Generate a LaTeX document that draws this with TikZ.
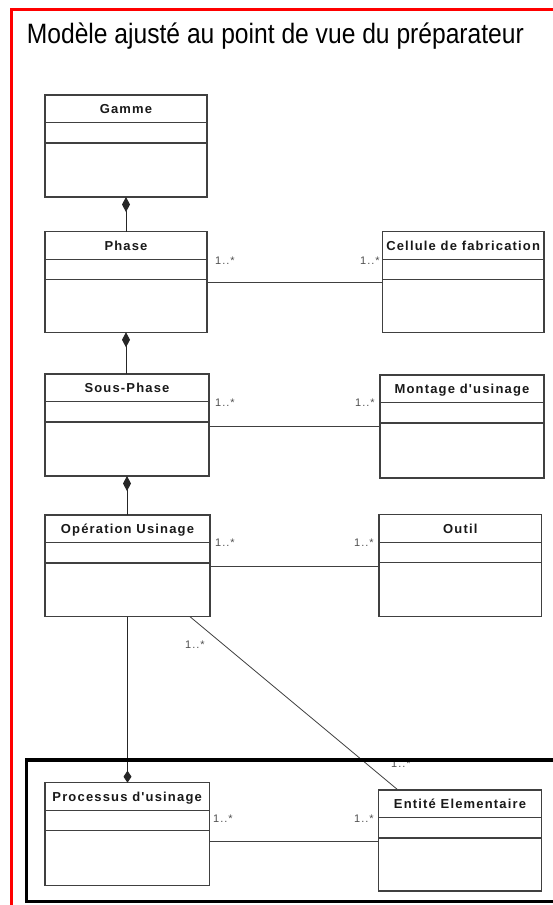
\documentclass[tikz,border=0pt]{standalone}
\usepackage{fontspec}
\setmainfont{Liberation Sans}
\newfontfamily\boxfont[LetterSpace=9]{Liberation Sans}
\usetikzlibrary{arrows.meta,calc}
\definecolor{umlgray}{HTML}{404040}
\definecolor{multgray}{HTML}{505050}
\definecolor{framered}{HTML}{FF0000}
\tikzset{
  classbox/.style={draw=umlgray, line width=1.1pt, fill=white, inner sep=0pt, outer sep=0pt},
  classline/.style={draw=umlgray, line width=1.1pt},
  classname/.style={anchor=base, inner sep=0pt, font=\boxfont\bfseries\fontsize{13}{15}\selectfont, text=black!90},
  mult/.style={inner sep=0pt, font=\boxfont\fontsize{11}{13}\selectfont, text=multgray},
  assoc/.style={draw=umlgray, line width=1pt},
  compo/.style={draw=black!85, line width=1pt, {Diamond[length=15pt,width=8pt]}-},
  compoend/.style={draw=black!85, line width=1pt, -{Diamond[length=12pt,width=8pt]}},
}
\newcommand\umlclass[6]{%
  \node[classbox, anchor=north west, minimum width={#4pt-#2pt}, minimum height={#5pt-#3pt}] (#1) at (#2,#3) {};
  \draw[classline] ($(#1.north west)+(0,27.5)$) -- ($(#1.north east)+(0,27.5)$);
  \draw[classline] ($(#1.north west)+(0,48)$) -- ($(#1.north east)+(0,48)$);
  \node[classname] (#1-name) at ($(#1.north)+(0,18.3)$) {#6};
}
\begin{document}
\begin{tikzpicture}[x=1pt,y=-1pt]
\useasboundingbox (0,0) rectangle (552,905);
\fill[white] (0,0) rectangle (552,905);
% title
\node[anchor=base west, inner sep=0pt, font=\fontsize{28}{32}\selectfont] (title) at (26.7,43.3) {\resizebox{497pt}{\height}{Modèle ajusté au point de vue du préparateur}};
% classes
\umlclass{gamme}{45}{95}{207}{197}{Gamme}
\umlclass{phase}{45}{231.7}{207}{332.3}{Phase}
\umlclass{cellule}{382.3}{231.7}{544}{332.7}{Cellule de fabrication}
\umlclass{sousphase}{45}{374}{209}{476}{Sous-Phase}
\umlclass{montage}{380}{375}{544}{478}{Montage d'usinage}
\umlclass{operation}{45}{515}{210}{616.7}{Opération Usinage}
\umlclass{outil}{379}{514.7}{541.7}{616.7}{Outil}
\umlclass{processus}{45}{782.7}{209.3}{885.7}{Processus d'usinage}
\umlclass{entite}{378.7}{790}{541.3}{891}{Entité Elementaire}
% compositions
\draw[compo] (gamme.south) -- (gamme.south |- phase.north);
\draw[compo] (phase.south) -- (phase.south |- sousphase.north);
\draw[compo] (sousphase.south) -- (sousphase.south |- operation.north);
\draw[compoend] (operation.south) -- (operation.south |- processus.north);
% associations
\draw[assoc] (phase.east |- 0,282.3) -- (cellule.west |- 0,282.3);
\draw[assoc] (sousphase.east |- 0,426.7) -- (montage.west |- 0,426.7);
\draw[assoc] (operation.east |- 0,566.7) -- (outil.west |- 0,566.7);
\draw[assoc] (processus.east |- 0,841) -- (entite.west |- 0,841);
\draw[assoc, line width=0.8pt] ($(operation.south west)+(145,0)$) -- ($(entite.north west)+(19.3,0)$);
% multiplicities
\node[mult, anchor=west] (m1) at (215,261) {1..*};
\node[mult, anchor=west] (m2) at (360,261) {1..*};
\node[mult, anchor=west] (m3) at (215,403) {1..*};
\node[mult, anchor=west] (m4) at (355,403) {1..*};
\node[mult, anchor=west] (m5) at (215,543) {1..*};
\node[mult, anchor=west] (m6) at (354,543) {1..*};
\node[mult, anchor=west] (m7) at (213,819) {1..*};
\node[mult, anchor=west] (m8) at (354,819) {1..*};
\node[mult, anchor=west] (m9) at (185,645) {1..*};
\begin{scope}
\clip (380,762) rectangle (420,775);
\node[mult, anchor=base west] (m10) at (391,767) {1..*};
\end{scope}
% frames
\draw[black, line width=3.5pt] (560,760) -- (26.7,760) -- (26.7,901.5) -- (560,901.5);
\draw[framered, line width=3pt] (560,9.5) -- (11.5,9.5) -- (11.5,910);
\end{tikzpicture}
\end{document}
